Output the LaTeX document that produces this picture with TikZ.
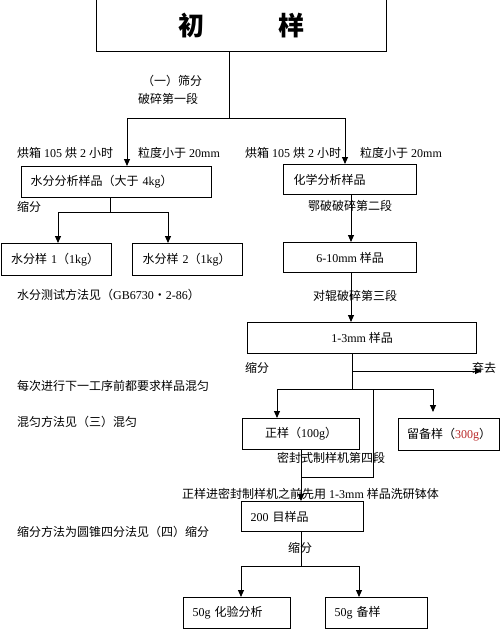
\documentclass[tikz,border=0pt]{standalone}
\usepackage{fontspec}
\setmainfont{Liberation Serif}
\newfontfamily\cjk{Noto Sans CJK SC}
\newcommand\zh[1]{{\cjk #1}}
\usetikzlibrary{arrows.meta}
\definecolor{redtxt}{RGB}{185,40,40}
\begin{document}
\begin{tikzpicture}[x=1pt,y=-1pt,
  box/.style={draw, line width=1.2pt, inner ysep=0pt, anchor=north west, font=\fontsize{12}{14}\selectfont},
  boxc/.style={box, inner xsep=0pt, align=center},
  boxl/.style={box, inner xsep=9pt, align=left},
  conn/.style={line width=0.9pt},
  thinline/.style={line width=0.7pt},
  arr/.style={conn, -{Triangle[length=7pt,width=6pt]}},
  lbl/.style={inner sep=0pt, font=\fontsize{12}{14}\selectfont},
  lblw/.style={lbl, anchor=west},
  ]
\useasboundingbox (0,0) rectangle (500,629);

% boxes
\node[boxc, minimum width=290pt, minimum height=53pt, font=\fontsize{26}{30}\selectfont\bfseries] (top) at (96,-2) {\zh{初}\hspace{74pt}\zh{样}};
\node[boxl, text width=172pt, minimum height=31pt] (wbox) at (21,166) {\zh{水分分析样品（大于} 4kg\zh{）}};
\node[boxl, text width=113pt, minimum height=30pt, inner xsep=10pt] (cbox) at (283,164) {\zh{化学分析样品}};
\node[boxl, text width=90pt, minimum height=32pt, inner xsep=10pt] (w1) at (0.6,243) {\zh{水分样} 1\zh{（}1kg\zh{）}};
\node[boxl, text width=90pt, minimum height=32pt, inner xsep=10pt] (w2) at (132,243) {\zh{水分样} 2\zh{（}1kg\zh{）}};
\node[boxc, minimum width=133pt, minimum height=30pt] (m610) at (283,242) {6-10mm \zh{样品}};
\node[boxc, minimum width=229pt, minimum height=31pt] (m13) at (247,322) {1-3mm \zh{样品}};
\node[boxc, minimum width=117pt, minimum height=31pt] (zheng) at (242,418) {\zh{正样（}100g\zh{）}};
\node[boxc, minimum width=101pt, minimum height=32pt] (liu) at (398,418) {\zh{留备样（}\textcolor{redtxt}{300g}\zh{）}};
\node[boxl, text width=104pt, minimum height=30pt] (m200) at (241,501) {200 \zh{目样品}};
\node[boxl, text width=89pt, minimum height=31pt] (r1) at (183,597) {50g \zh{化验分析}};
\node[boxl, text width=84pt, minimum height=31pt] (r2) at (325,597) {50g \zh{备样}};

% labels
\node[lbl] (t1) at (172,81) {\zh{（一）筛分}};
\node[lbl] (t2) at (168,99) {\zh{破碎第一段}};
\node[lblw] (t3) at (17,153) {\zh{烘箱} 105 \zh{烘} 2 \zh{小时}};
\node[lblw] (t4) at (138,153) {\zh{粒度小于} 20mm};
\node[lblw] (t5) at (245,153) {\zh{烘箱} 105 \zh{烘} 2 \zh{小时}};
\node[lblw] (t6) at (360,153) {\zh{粒度小于} 20mm};
\node[lblw] (t7) at (17,207) {\zh{缩分}};
\node[lbl] (t8) at (350,206) {\zh{鄂破破碎第二段}};
\node[lblw] (t9) at (17,295) {\zh{水分测试方法见（}GB6730\zh{・}2-86\zh{）}};
\node[lbl] (t10) at (355,296) {\zh{对辊破碎第三段}};
\node[lblw] (t11) at (245,368) {\zh{缩分}};
\node[lblw] (t12) at (472,368) {\zh{弃去}};
\node[lblw] (t13) at (17,386) {\zh{每次进行下一工序前都要求样品混匀}};
\node[lblw] (t14) at (17,422) {\zh{混匀方法见（三）混匀}};
\node[lbl] (t15) at (331,458) {\zh{密封式制样机第四段}};
\node[lblw] (t16) at (182,494) {\zh{正样进密封制样机之前先用} 1-3mm \zh{样品洗研钵体}};
\node[lblw] (t17) at (17,532) {\zh{缩分方法为圆锥四分法见（四）缩分}};
\node[lbl] (t18) at (300,548) {\zh{缩分}};

% junction coordinates
\coordinate (j0) at (229,118);
\coordinate (a1) at (127,118);
\coordinate (a2) at (345,118);
\coordinate (j1) at (110,212);
\coordinate (b1) at (58,212);
\coordinate (b2) at (168,212);
\coordinate (c1) at (351,200);
\coordinate (d0) at (352,389);
\coordinate (dd) at (352,371);
\coordinate (dt) at (482,371);
\coordinate (e1) at (277,389);
\coordinate (e2) at (433,389);
\coordinate (f0) at (373,389);
\coordinate (f1) at (373,477);
\coordinate (f2) at (301,477);
\coordinate (h0) at (301,566);
\coordinate (h1) at (241,566);
\coordinate (h2) at (359,566);

% connectors
\draw[conn] (top.south -| j0) -- (j0);
\draw[conn] (a1) -- (a2);
\draw[arr] (a1) -- (wbox.north -| a1);
\draw[arr] (a2) -- (cbox.north -| a2);
\draw[conn] (wbox.south -| j1) -- (j1);
\draw[conn] (b1) -- (b2);
\draw[arr] (b1) -- (w1.north -| b1);
\draw[arr] (b2) -- (w2.north -| b2);
\draw[arr] (cbox.south -| c1) -- (m610.north -| c1);
\draw[arr] (m610.south -| c1) -- (m13.north -| c1);
\draw[conn] (m13.south -| d0) -- (d0);
\draw[arr] (dd) -- (dt);
\draw[conn] (e1) -- (e2);
\draw[arr] (e1) -- (zheng.north -| e1);
\draw[arr, shorten >=6pt] (e2) -- (liu.north -| e2);
\draw[thinline] (f0) -- (f1) -- (f2);
\draw[arr] (zheng.south -| f2) -- (m200.north -| f2);
\draw[conn] (m200.south -| h0) -- (h0);
\draw[conn] (h1) -- (h2);
\draw[arr] (h1) -- (r1.north -| h1);
\draw[arr] (h2) -- (r2.north -| h2);
\end{tikzpicture}
\end{document}
